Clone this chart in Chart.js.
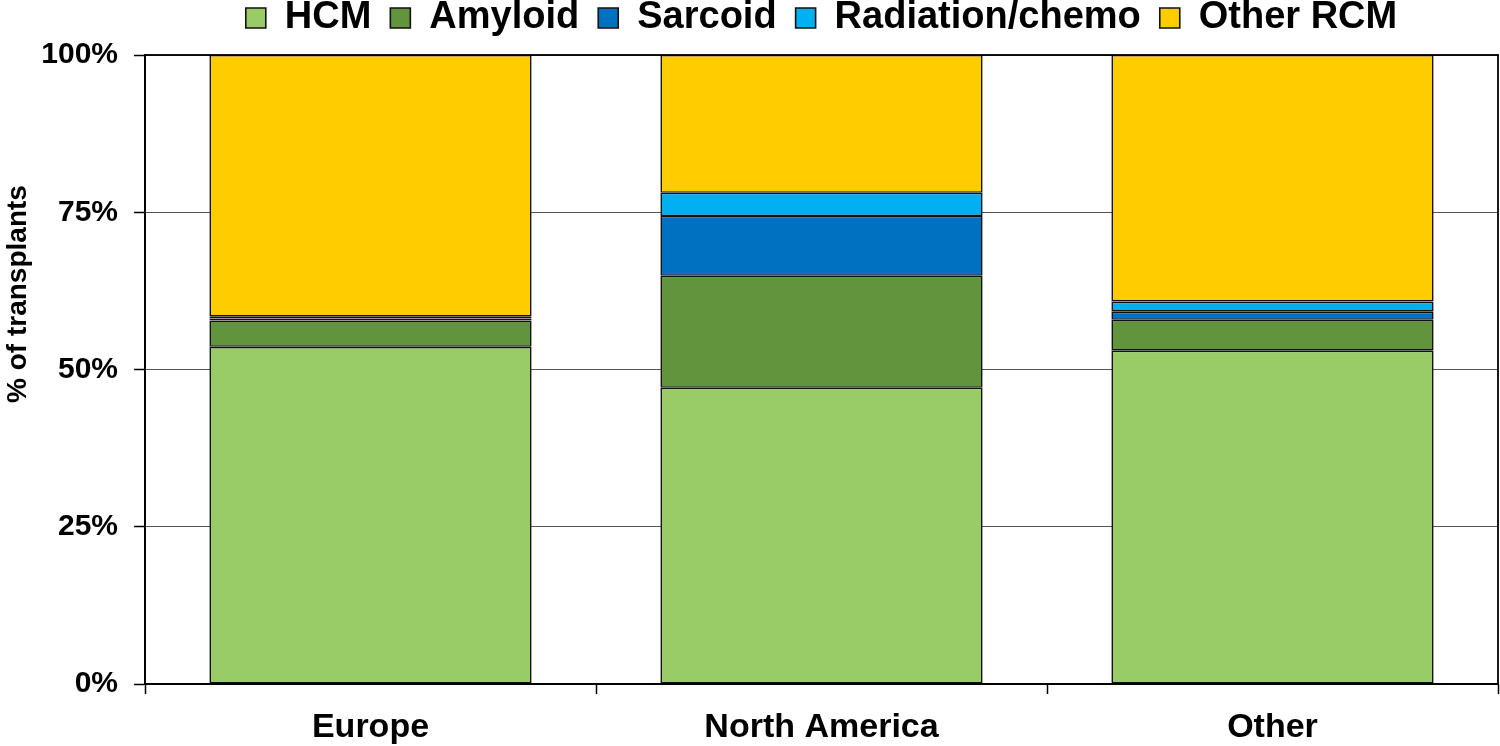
<!DOCTYPE html>
<html>
<head>
<meta charset="utf-8">
<title>Transplants by cardiomyopathy type</title>
<script src="https://cdn.jsdelivr.net/npm/chart.js@4"></script>
<style>
  html, body { margin: 0; padding: 0; background: #fff; }
  #wrap { width: 1500px; height: 746px; position: relative; }
</style>
</head>
<body>
<div id="wrap"><canvas id="chart"></canvas></div>
<script>
// regions on the x axis
const regions = ['Europe', 'North America', 'Other'];

// % of transplants per region, bottom to top of each stack
const hcm       = [53.6, 47.1, 53.0];
const amyloid   = [4.2, 17.8, 4.9];
const sarcoid   = [0.3, 9.5, 1.3];
const radiation = [0.3, 3.7, 1.6];
const otherRcm  = [41.6, 21.9, 39.2];

const yTicks = [0, 25, 50, 75, 100];

const FONT = '"Liberation Sans", Arial, sans-serif';

const series = [
    { label: 'HCM', data: hcm, color: '#99CC66' },
    { label: 'Amyloid', data: amyloid, color: '#61943D' },
    { label: 'Sarcoid', data: sarcoid, color: '#0070C0' },
    { label: 'Radiation/chemo', data: radiation, color: '#00B0F0' },
    { label: 'Other RCM', data: otherRcm, color: '#FFCC00' }
];

// box round the plot area (top and right edges are not drawn by the axes)
const frame = {
    id: 'frame',
    afterDatasetsDraw(chart) {
        const { ctx, chartArea: a } = chart;
        ctx.save();
        ctx.strokeStyle = '#000';
        ctx.lineWidth = 1.8;
        ctx.strokeRect(a.left, a.top, a.right - a.left, a.bottom - a.top);
        ctx.restore();
    }
};

// a bit more room between the legend row and the plot
const legendGap = {
    id: 'legendGap',
    beforeLayout(chart) {
        const legend = chart.legend;
        if (!legend || legend._gapWrapped) return;
        const fit = legend.fit;
        legend.fit = function () {
            fit.call(this);
            this.height += 8;
        };
        legend._gapWrapped = true;
    }
};

// y axis title sits a bit above the middle in the original
const yTitle = {
    id: 'yTitle',
    afterDraw(chart) {
        const { ctx } = chart;
        const y = chart.scales.y.getPixelForValue(62);
        ctx.save();
        ctx.translate(18, y);
        ctx.rotate(-Math.PI / 2);
        ctx.font = 'bold 28px ' + FONT;
        ctx.fillStyle = '#000';
        ctx.textAlign = 'center';
        ctx.textBaseline = 'middle';
        ctx.fillText('% of transplants', 0, 0);
        ctx.restore();
    }
};

new Chart(document.getElementById('chart'), {
    type: 'bar',
    data: {
        labels: regions,
        datasets: series.map(s => ({
            label: s.label,
            data: s.data,
            backgroundColor: s.color,
            borderColor: '#111',
            borderWidth: 1.6,
            borderSkipped: false,
            categoryPercentage: 1,
            barPercentage: 0.7145
        }))
    },
    options: {
        responsive: true,
        maintainAspectRatio: false,
        animation: false,
        // negative top pulls the wide-spaced legend up to the canvas edge
        layout: { padding: { left: 0, right: 2, top: -20, bottom: 0 } },
        plugins: {
            tooltip: { enabled: false },
            legend: {
                position: 'top',
                fullSize: false, // centre it over the plot, not the canvas
                labels: {
                    color: '#000',
                    font: { family: FONT, size: 38, weight: 'bold' },
                    boxWidth: 20,
                    boxHeight: 20,
                    padding: 19
                }
            }
        },
        scales: {
            x: {
                stacked: true,
                afterFit(scale) { scale.height = 62; },
                border: { display: true, color: '#000', width: 1.8 },
                grid: {
                    offset: true,
                    drawOnChartArea: false,
                    drawTicks: true,
                    tickLength: 10,
                    tickColor: '#000',
                    tickWidth: 1.5
                },
                ticks: {
                    color: '#000',
                    font: { family: FONT, size: 34, weight: 'bold' },
                    padding: 13,
                    maxRotation: 0
                }
            },
            y: {
                stacked: true,
                min: 0,
                max: 100,
                afterFit(scale) { scale.width = 145; },
                afterBuildTicks(scale) { scale.ticks = yTicks.map(v => ({ value: v })); },
                border: { display: true, color: '#000', width: 1.8 },
                grid: {
                    color: '#555',
                    lineWidth: 1,
                    borderDash: [2, 1],
                    tickColor: '#000',
                    tickBorderDash: [],
                    tickLength: 11,
                    tickWidth: 1.5
                },
                ticks: {
                    color: '#000',
                    font: { family: FONT, size: 30, weight: 'bold' },
                    padding: 16,
                    callback: v => v + '%'
                }
            }
        }
    },
    plugins: [legendGap, frame, yTitle]
});
</script>
</body>
</html>
